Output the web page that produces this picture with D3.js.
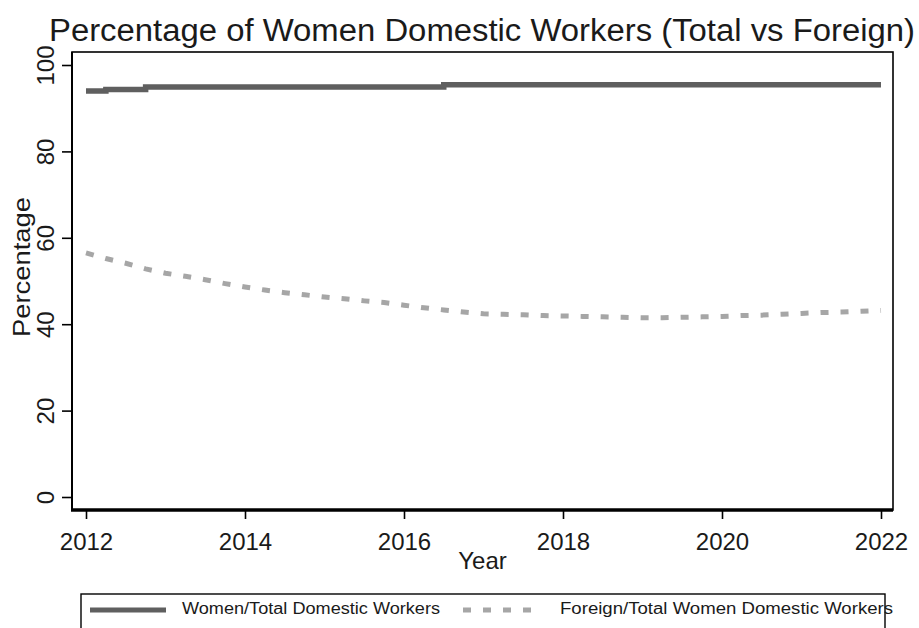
<!DOCTYPE html>
<html>
<head>
<meta charset="utf-8">
<script src="https://cdn.jsdelivr.net/npm/d3@7"></script>
<style>
  html, body { margin: 0; padding: 0; background: #fff; }
  svg { display: block; font-family: "Liberation Sans", Arial, sans-serif; }
</style>
</head>
<body>
<svg id="chart" width="919" height="628"></svg>
<script>
// Quarterly observations (decimal year)
const periods = [
  2012.00, 2012.25, 2012.50, 2012.75,
  2013.00, 2013.25, 2013.50, 2013.75,
  2014.00, 2014.25, 2014.50, 2014.75,
  2015.00, 2015.25, 2015.50, 2015.75,
  2016.00, 2016.25, 2016.50, 2016.75,
  2017.00, 2017.25, 2017.50, 2017.75,
  2018.00, 2018.25, 2018.50, 2018.75,
  2019.00, 2019.25, 2019.50, 2019.75,
  2020.00, 2020.25, 2020.50, 2020.75,
  2021.00, 2021.25, 2021.50, 2021.75,
  2022.00
];

// Women as % of all domestic workers
const womenShare = [
  94.0, 94.3, 94.3, 94.9,
  94.9, 94.9, 94.9, 94.9,
  94.9, 94.9, 94.9, 94.9,
  94.9, 94.9, 94.9, 94.9,
  94.9, 94.9, 95.4, 95.4,
  95.4, 95.4, 95.4, 95.4,
  95.4, 95.4, 95.4, 95.4,
  95.4, 95.4, 95.4, 95.4,
  95.4, 95.4, 95.4, 95.4,
  95.4, 95.4, 95.4, 95.4,
  95.4
];

// Foreign women as % of all women domestic workers
const foreignShare = [
  56.5, 55.2, 54.1, 52.8,
  51.8, 51.1, 50.3, 49.4,
  48.6, 47.9, 47.3, 46.8,
  46.3, 45.9, 45.4, 45.0,
  44.4, 43.8, 43.3, 42.8,
  42.4, 42.3, 42.2, 42.0,
  41.9, 41.8, 41.7, 41.6,
  41.5, 41.5, 41.6, 41.7,
  41.8, 42.0, 42.1, 42.3,
  42.5, 42.7, 42.8, 43.0,
  43.2
];

const yearTicks = [2012, 2014, 2016, 2018, 2020, 2022];
const pctTicks = [0, 20, 40, 60, 80, 100];
const seriesNames = ["Women/Total Domestic Workers", "Foreign/Total Women Domestic Workers"];
const titleText = "Percentage of Women Domestic Workers (Total vs Foreign)";
const xTitle = "Year";
const yTitle = "Percentage";

const svg = d3.select("#chart");

const frame = { left: 72, top: 52, right: 893, bottom: 510 };
const x = d3.scaleLinear().domain([2012, 2022]).range([86, 881]);
const y = d3.scaleLinear().domain([0, 100]).range([497, 65]);

// Title
svg.append("text")
  .attr("x", 49).attr("y", 41)
  .attr("font-size", 31)
  .attr("fill", "#1a1a1a")
  .attr("textLength", 866)
  .attr("lengthAdjust", "spacingAndGlyphs")
  .text(titleText);

// Plot frame
svg.append("rect")
  .attr("x", frame.left).attr("y", frame.top)
  .attr("width", frame.right - frame.left)
  .attr("height", frame.bottom - frame.top)
  .attr("fill", "none").attr("stroke", "#000").attr("stroke-width", 1.6);
svg.append("line")
  .attr("x1", frame.left - 1).attr("x2", frame.right)
  .attr("y1", frame.bottom).attr("y2", frame.bottom)
  .attr("stroke", "#000").attr("stroke-width", 3.5);
svg.append("line")
  .attr("x1", frame.left).attr("x2", frame.left)
  .attr("y1", frame.top).attr("y2", frame.bottom)
  .attr("stroke", "#000").attr("stroke-width", 2);

// Y axis
const yAxis = svg.append("g")
  .attr("transform", `translate(${frame.left},0)`)
  .call(d3.axisLeft(y).tickValues(pctTicks).tickSize(10).tickSizeOuter(0));
yAxis.select(".domain").remove();
yAxis.selectAll(".tick line").attr("stroke", "#000").attr("stroke-width", 1.6);
yAxis.selectAll(".tick text")
  .attr("x", 0).attr("y", 0).attr("dy", 0)
  .attr("text-anchor", "middle")
  .attr("transform", "translate(-18,0) rotate(-90)")
  .attr("font-size", 24)
  .attr("font-family", "Liberation Sans, Arial, sans-serif")
  .attr("fill", "#1a1a1a");

// X axis
const xAxis = svg.append("g")
  .attr("transform", `translate(0,${frame.bottom})`)
  .call(d3.axisBottom(x).tickValues(yearTicks).tickFormat(d3.format("d")).tickSize(9).tickSizeOuter(0));
xAxis.select(".domain").remove();
xAxis.selectAll(".tick line").attr("stroke", "#000").attr("stroke-width", 1.6);
xAxis.selectAll(".tick text")
  .attr("y", 40).attr("dy", 0)
  .attr("font-size", 24)
  .attr("font-family", "Liberation Sans, Arial, sans-serif")
  .attr("fill", "#1a1a1a");

// Axis titles
svg.append("text")
  .attr("x", (frame.left + frame.right) / 2).attr("y", 569)
  .attr("text-anchor", "middle")
  .attr("font-size", 24).attr("fill", "#1a1a1a")
  .text(xTitle);
svg.append("text")
  .attr("transform", "translate(30,267) rotate(-90)")
  .attr("text-anchor", "middle")
  .attr("font-size", 24).attr("fill", "#1a1a1a")
  .attr("textLength", 140).attr("lengthAdjust", "spacingAndGlyphs")
  .text(yTitle);

// Series lines
const womenLine = d3.line().curve(d3.curveStepAfter).x(d => x(d.t)).y(d => y(d.v));
const foreignLine = d3.line().x(d => x(d.t)).y(d => y(d.v));
const womenPts = periods.map((t, i) => ({ t, v: womenShare[i] }));
const foreignPts = periods.map((t, i) => ({ t, v: foreignShare[i] }));

svg.append("path")
  .datum(foreignPts)
  .attr("d", foreignLine)
  .attr("fill", "none")
  .attr("stroke", "#a6a6a6")
  .attr("stroke-width", 5)
  .attr("stroke-dasharray", "8,12");

svg.append("path")
  .datum(womenPts)
  .attr("d", womenLine)
  .attr("fill", "none")
  .attr("stroke", "#5f5f5f")
  .attr("stroke-width", 5.5);

// Legend
const legend = svg.append("g");
legend.append("rect")
  .attr("x", 81).attr("y", 594)
  .attr("width", 804).attr("height", 60)
  .attr("fill", "none").attr("stroke", "#000").attr("stroke-width", 1.4);
legend.append("line")
  .attr("x1", 90).attr("x2", 166).attr("y1", 610).attr("y2", 610)
  .attr("stroke", "#5f5f5f").attr("stroke-width", 5);
legend.append("text")
  .attr("x", 182).attr("y", 614)
  .attr("font-size", 16).attr("fill", "#1a1a1a")
  .attr("textLength", 258).attr("lengthAdjust", "spacingAndGlyphs")
  .text(seriesNames[0]);
legend.append("line")
  .attr("x1", 463).attr("x2", 541).attr("y1", 610).attr("y2", 610)
  .attr("stroke", "#a6a6a6").attr("stroke-width", 5)
  .attr("stroke-dasharray", "8,12");
legend.append("text")
  .attr("x", 560).attr("y", 614)
  .attr("font-size", 16).attr("fill", "#1a1a1a")
  .attr("textLength", 333).attr("lengthAdjust", "spacingAndGlyphs")
  .text(seriesNames[1]);
</script>
</body>
</html>
